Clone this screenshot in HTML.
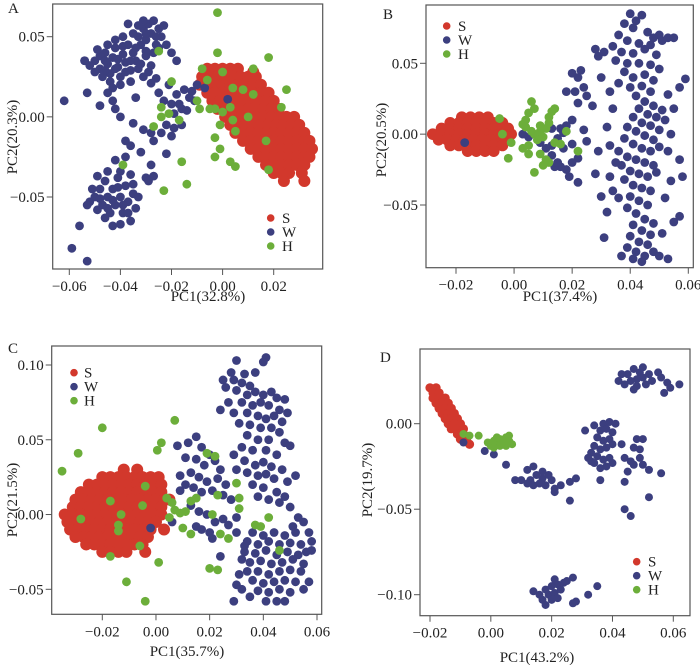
<!DOCTYPE html>
<html><head><meta charset="utf-8">
<style>
html,body{margin:0;padding:0;background:#fff;}
svg, svg text{font-family:"Liberation Serif","Times New Roman",serif;}
</style></head>
<body>
<svg id="fig" width="700" height="665" viewBox="0 0 700 665"></svg>
<script>
// ---------- DATA ----------
const aS = [[0.03,[-0.006,-0.003,0,0.003,0.006]],[0.028,[0.012]],[0.025,[-0.008,-0.005,-0.002,0.001,0.004,0.007,0.01,0.013]],[0.02,[-0.009,-0.006,-0.003,0,0.003,0.006,0.009,0.012,0.015]],[0.015,[-0.006,-0.003,0,0.003,0.006,0.009,0.012,0.015,0.018]],[0.01,[-0.004,-0.001,0.002,0.005,0.008,0.011,0.014,0.017,0.02]],[0.005,[-0.002,0.001,0.004,0.007,0.01,0.013,0.016,0.019,0.022]],[0,[0.001,0.004,0.007,0.01,0.013,0.016,0.019,0.022,0.025,0.028]],[-0.005,[0.003,0.006,0.009,0.012,0.015,0.018,0.021,0.024,0.027,0.03]],[-0.01,[0.005,0.008,0.011,0.014,0.017,0.02,0.023,0.026,0.029,0.032]],[-0.015,[0.008,0.011,0.014,0.017,0.02,0.023,0.026,0.029,0.032,0.034]],[-0.02,[0.011,0.014,0.017,0.02,0.023,0.026,0.029,0.032,0.035]],[-0.025,[0.014,0.017,0.02,0.023,0.026,0.029,0.032,0.034]],[-0.03,[0.017,0.02,0.023,0.026,0.029,0.032]],[-0.035,[0.02,0.023,0.026,0.031]],[-0.04,[0.024,0.032]]];
const aW = [[-0.05,0.035],[-0.048,0.03],[-0.046,0.04],[-0.045,0.033],[-0.044,0.027],[-0.043,0.037],[-0.042,0.043],[-0.041,0.031],[-0.04,0.025],[-0.039,0.039],[-0.038,0.034],[-0.037,0.045],[-0.036,0.029],[-0.035,0.04],[-0.034,0.035],[-0.033,0.05],[-0.032,0.045],[-0.031,0.055],[-0.03,0.048],[-0.029,0.058],[-0.028,0.052],[-0.027,0.06],[-0.026,0.045],[-0.025,0.055],[-0.024,0.05],[-0.023,0.057],[-0.03,0.038],[-0.033,0.03],[-0.036,0.022],[-0.04,0.02],[-0.044,0.022],[-0.047,0.025],[-0.05,0.028],[-0.052,0.032],[-0.048,0.038],[-0.045,0.045],[-0.042,0.048],[-0.039,0.05],[-0.035,0.052],[-0.031,0.06],[-0.027,0.04],[-0.028,0.032],[-0.031,0.025],[-0.038,0.028],[-0.041,0.036],[-0.046,0.029],[-0.034,0.043],[-0.03,0.041],[-0.025,0.043],[-0.022,0.045],[-0.02,0.04],[-0.018,0.035],[-0.043,0.018],[-0.049,0.042],[-0.054,0.035],[-0.037,0.058],[-0.033,0.057],[-0.03,0.052],[-0.026,0.05],[-0.036,0.035],[-0.032,0.033],[-0.029,0.028],[-0.026,0.024],[-0.039,0.044],[-0.046,0.035],[-0.042,0.03],
[-0.021,0.02],[-0.018,0.014],[-0.015,0.017],[-0.012,0.016],[-0.01,0.02],[-0.007,0.018],[-0.013,0.012],[-0.016,0.005],[-0.02,0.008],[-0.023,0.01],[-0.025,0.015],[-0.019,0.002],[-0.022,-0.005],[-0.02,-0.012],[-0.017,0.008],[-0.014,0.004],[-0.011,0.01],[-0.024,-0.01],[-0.027,-0.015],[-0.028,-0.03],[-0.022,-0.023],[-0.032,-0.022],[-0.036,-0.018],[-0.038,-0.015],[-0.031,-0.008],[-0.035,-0.004],[-0.04,0],[-0.043,0.01],[-0.045,0.015],[-0.048,0.007],[-0.053,0.015],[-0.042,0.005],[-0.034,0.012],[-0.028,0.021],[-0.028,-0.01],[-0.016,-0.005],[-0.019,-0.007],
[-0.05,-0.05],[-0.048,-0.045],[-0.047,-0.055],[-0.046,-0.04],[-0.045,-0.05],[-0.044,-0.06],[-0.043,-0.045],[-0.042,-0.055],[-0.041,-0.038],[-0.04,-0.05],[-0.039,-0.06],[-0.038,-0.043],[-0.037,-0.053],[-0.036,-0.036],[-0.035,-0.048],[-0.034,-0.057],[-0.036,-0.065],[-0.04,-0.067],[-0.043,-0.068],[-0.046,-0.063],[-0.049,-0.058],[-0.052,-0.053],[-0.051,-0.045],[-0.049,-0.037],[-0.045,-0.034],[-0.04,-0.034],[-0.035,-0.042],[-0.037,-0.06],[-0.043,-0.052],[-0.048,-0.051],[-0.041,-0.044],[-0.039,-0.055],[-0.045,-0.057],[-0.033,-0.05],[-0.053,-0.055],[-0.03,-0.038],[-0.038,-0.025],[-0.042,-0.027],
[-0.062,0.01],[-0.059,-0.082],[-0.053,-0.09],[-0.056,-0.068],[-0.054,0.035],[0.002,0.011],[-0.027,-0.037],[-0.029,-0.04]];
const aH = [[-0.002,0.065],[-0.002,0.04],[0.018,0.037],[0.012,0.03],[0,0.028],[-0.008,0.03],[-0.025,0.041],[-0.02,0.022],[0.025,0.017],[0.008,0.017],[0.004,0.018],[0.012,0.014],[-0.01,0.01],[-0.005,0.005],[-0.003,0.005],[0,0.003],[0.003,0.006],[0.01,0],[0.023,0.006],[-0.024,0.006],[-0.024,0],[-0.021,0.002],[-0.017,-0.002],[-0.027,-0.006],[-0.001,-0.005],[0.004,-0.002],[0.005,-0.009],[-0.003,-0.013],[-0.001,-0.02],[-0.003,-0.025],[0.003,-0.028],[0.005,-0.031],[0.017,-0.015],[0.018,-0.033],[-0.016,-0.028],[-0.014,-0.042],[-0.023,-0.046],[-0.039,-0.03],[-0.009,0.005],[-0.006,0.023]];

const bS = [[0.012,[-0.018,-0.015,-0.012,-0.009]],[0.008,[-0.022,-0.019,-0.016,-0.013,-0.01,-0.007,-0.004]],[0.004,[-0.025,-0.022,-0.019,-0.016,-0.013,-0.01,-0.007,-0.004,-0.002]],[0,[-0.028,-0.025,-0.022,-0.019,-0.016,-0.013,-0.01,-0.007,-0.004,-0.001]],[-0.004,[-0.026,-0.023,-0.02,-0.017,-0.014,-0.011,-0.008,-0.005,-0.002]],[-0.008,[-0.022,-0.019,-0.016,-0.013,-0.01,-0.007,-0.004]],[-0.012,[-0.016,-0.013,-0.01,-0.007]]];
const bW = [[-0.017,-0.006],[0.04,0.085],[0.042,0.08],[0.044,0.084],[0.038,0.078],[0.041,0.075],[0.046,0.072],[0.05,0.07],[0.048,0.068],[0.036,0.07],[0.039,0.066],[0.043,0.064],[0.047,0.063],[0.051,0.066],[0.034,0.062],[0.037,0.058],[0.041,0.057],[0.045,0.06],[0.049,0.056],[0.035,0.052],[0.039,0.05],[0.043,0.05],[0.047,0.049],[0.05,0.046],[0.038,0.044],[0.041,0.04],[0.045,0.042],[0.048,0.038],[0.036,0.036],[0.04,0.033],[0.044,0.034],[0.047,0.03],[0.042,0.027],[0.045,0.023],[0.048,0.02],[0.051,0.017],[0.043,0.018],[0.046,0.014],[0.049,0.012],[0.041,0.012],[0.044,0.008],[0.047,0.006],[0.05,0.003],[0.039,0.005],[0.042,0.002],[0.045,-0.001],[0.048,-0.004],[0.038,-0.003],[0.041,-0.007],[0.044,-0.01],[0.047,-0.012],[0.05,-0.009],[0.036,-0.012],[0.039,-0.016],[0.042,-0.018],[0.045,-0.02],[0.048,-0.022],[0.037,-0.022],[0.04,-0.026],[0.043,-0.028],[0.046,-0.03],[0.049,-0.027],[0.038,-0.032],[0.041,-0.036],[0.044,-0.038],[0.047,-0.04],[0.04,-0.044],[0.043,-0.047],[0.046,-0.05],[0.039,-0.052],[0.042,-0.056],[0.045,-0.06],[0.048,-0.063],[0.041,-0.064],[0.044,-0.068],[0.047,-0.071],[0.04,-0.072],[0.043,-0.076],[0.046,-0.078],[0.039,-0.08],[0.042,-0.083],[0.045,-0.086],[0.048,-0.083],[0.037,-0.086],[0.041,-0.088],[0.044,-0.09],[0.05,-0.086],[0.053,-0.088],[0.036,-0.045],[0.034,-0.04],[0.033,-0.03],[0.035,-0.02],[0.033,-0.008],[0.032,0.005],[0.034,0.018],[0.033,0.03],[0.03,0.04],[0.029,0.055],[0.028,0.06],[0.031,0.058],[0.053,0.068],[0.055,0.068],[0.059,0.039],[0.057,0.033],[0.053,0.028],[0.055,0.018],[0.052,0.01],[0.054,0],[0.053,-0.012],[0.057,-0.018],[0.058,-0.03],[0.054,-0.033],[0.052,-0.045],[0.055,-0.062],[0.057,-0.058],[0.051,-0.07],[0.031,-0.073],[0.032,-0.055],[0.03,-0.044],[0.028,-0.028],[0.029,-0.012],[0.027,0.02],[0.025,0.027],[0.024,0.033],[0.023,0.045],[0.022,0.04],[0.02,0.043],[0.018,0.03],[0.021,0.03],[0.022,0.022],[0.02,0.01],[0.018,0.006],[0.017,0.001],[0.015,-0.003],[0.013,-0.008],[0.017,-0.01],[0.02,-0.007],[0.022,-0.017],[0.02,-0.02],[0.018,-0.025],[0.016,-0.023],[0.014,-0.023],[0.022,-0.034],[0.019,-0.03],[0.003,0],[0.005,-0.002],[0.009,-0.006],[0.01,0.004],[0.013,0.004],[0.016,0.004],[0.011,-0.01],[0.013,-0.015],[0.015,-0.02],[0.024,0.003],[0.025,-0.005]];
const bH = [[-0.005,0.011],[-0.004,0],[-0.001,-0.006],[-0.002,-0.017],[0.003,0.007],[0.004,0.01],[0.005,0.015],[0.006,0.023],[0.007,0.018],[0.004,0.005],[0.006,0.002],[0.007,0],[0.008,-0.001],[0.009,0.002],[0.011,0.004],[0.012,0.008],[0.013,0.016],[0.014,0.018],[0.012,0.012],[0.008,-0.004],[0.005,-0.008],[0.003,-0.01],[0.005,-0.014],[0.009,-0.014],[0.011,-0.018],[0.01,-0.022],[0.012,-0.02],[0.007,-0.027],[0.014,-0.006],[0.018,0.002],[0.022,-0.012],[0.016,-0.007],[0.009,0.006],[0.01,-0.002]];

const cS = [[0.03,[-0.012,-0.007]],[0.025,[-0.02,-0.017,-0.014,-0.011,-0.008,-0.005,-0.002,0.001]],[0.02,[-0.025,-0.022,-0.019,-0.016,-0.013,-0.01,-0.007,-0.004,-0.001,0.002]],[0.015,[-0.028,-0.025,-0.022,-0.019,-0.016,-0.013,-0.01,-0.007,-0.004,-0.001,0.002]],[0.01,[-0.03,-0.027,-0.024,-0.021,-0.018,-0.015,-0.012,-0.009,-0.006,-0.003,0,0.003,0.005]],[0.005,[-0.031,-0.028,-0.025,-0.022,-0.019,-0.016,-0.013,-0.01,-0.007,-0.004,-0.001,0.002]],[0,[-0.034,-0.031,-0.028,-0.025,-0.022,-0.019,-0.016,-0.013,-0.01,-0.007,-0.004,-0.001,0.002]],[-0.005,[-0.033,-0.03,-0.027,-0.024,-0.021,-0.018,-0.015,-0.012,-0.009,-0.006,-0.003,0]],[-0.01,[-0.032,-0.029,-0.026,-0.023,-0.02,-0.017,-0.014,-0.011,-0.008,-0.005,-0.002,0.003]],[-0.015,[-0.03,-0.027,-0.024,-0.021,-0.018,-0.015,-0.012,-0.009,-0.006,-0.003]],[-0.02,[-0.026,-0.023,-0.02,-0.017,-0.014,-0.011,-0.008,-0.005]],[-0.025,[-0.02,-0.017,-0.014,-0.011,-0.004]]];
const cW = [[-0.002,-0.009],[0.041,0.105],[0.04,0.102],[0.03,0.103],[0.028,0.095],[0.033,0.094],[0.037,0.095],[0.025,0.09],[0.029,0.09],[0.032,0.088],[0.035,0.086],[0.026,0.085],[0.03,0.083],[0.034,0.08],[0.037,0.082],[0.04,0.08],[0.043,0.082],[0.045,0.078],[0.048,0.077],[0.027,0.075],[0.032,0.075],[0.036,0.073],[0.039,0.075],[0.042,0.073],[0.046,0.07],[0.049,0.068],[0.024,0.07],[0.029,0.068],[0.034,0.068],[0.038,0.066],[0.041,0.064],[0.044,0.066],[0.047,0.062],[0.031,0.061],[0.035,0.06],[0.039,0.058],[0.043,0.058],[0.046,0.055],[0.034,0.053],[0.038,0.05],[0.042,0.05],[0.048,0.048],[0.05,0.046],[0.032,0.045],[0.036,0.043],[0.041,0.043],[0.045,0.04],[0.029,0.04],[0.033,0.036],[0.037,0.033],[0.04,0.035],[0.043,0.032],[0.047,0.03],[0.03,0.03],[0.034,0.028],[0.038,0.026],[0.041,0.027],[0.044,0.024],[0.049,0.022],[0.052,0.026],[0.036,0.02],[0.04,0.018],[0.045,0.015],[0.048,0.012],[0.038,0.012],[0.042,0.01],[0.046,0.008],[0.05,0.005],[0.053,-0.002],[0.051,-0.008],[0.055,-0.005],[0.057,-0.012],[0.058,-0.018],[0.058,-0.024],
[0.008,0.046],[0.012,0.048],[0.015,0.052],[0.017,0.045],[0.02,0.04],[0.011,0.038],[0.015,0.037],[0.018,0.033],[0.022,0.036],[0.024,0.03],[0.009,0.026],[0.013,0.028],[0.016,0.025],[0.019,0.022],[0.023,0.024],[0.026,0.02],[0.011,0.02],[0.014,0.018],[0.017,0.015],[0.021,0.016],[0.025,0.013],[0.028,0.01],[0.009,0.016],[0.013,0.006],[0.016,0.002],[0.019,0],[0.022,-0.005],[0.025,-0.003],[0.027,-0.007],[0.02,-0.012],[0.017,-0.01],[0.015,-0.008],[0.021,-0.016],[0.024,-0.028],[0.006,-0.005],[0.03,-0.012],[0.03,-0.002],
[0.036,-0.012],[0.04,-0.014],[0.044,-0.012],[0.048,-0.014],[0.052,-0.012],[0.034,-0.018],[0.038,-0.02],[0.042,-0.018],[0.046,-0.02],[0.05,-0.019],[0.054,-0.02],[0.033,-0.025],[0.037,-0.026],[0.041,-0.024],[0.045,-0.027],[0.049,-0.025],[0.053,-0.027],[0.056,-0.025],[0.035,-0.032],[0.039,-0.031],[0.043,-0.033],[0.047,-0.032],[0.051,-0.03],[0.055,-0.033],[0.034,-0.038],[0.038,-0.038],[0.042,-0.04],[0.046,-0.038],[0.05,-0.037],[0.054,-0.038],[0.036,-0.044],[0.04,-0.046],[0.044,-0.045],[0.048,-0.044],[0.052,-0.045],[0.038,-0.051],[0.042,-0.052],[0.046,-0.05],[0.05,-0.052],[0.041,-0.058],[0.045,-0.058],[0.035,-0.055],[0.032,-0.05],[0.03,-0.047],[0.029,-0.058],[0.031,-0.04],[0.032,-0.03],[0.057,-0.045],[0.055,-0.05],[0.048,-0.058],[0.033,-0.021]];
const cH = [[-0.035,0.029],[-0.029,0.041],[-0.02,0.058],[0.007,0.063],[0.002,0.048],[0.0005,0.043],[-0.028,-0.003],[-0.017,0.009],[-0.013,0],[-0.014,-0.007],[-0.014,-0.011],[-0.005,0.006],[-0.004,0.019],[-0.006,-0.021],[-0.017,-0.028],[0.001,-0.032],[-0.011,-0.045],[-0.004,-0.058],[0.004,0.011],[0.006,0.008],[0.007,0.003],[0.005,-0.002],[0.009,0.001],[0.011,0.002],[0.013,0.009],[0.015,0.011],[0.01,-0.009],[0.013,-0.013],[0.019,0.041],[0.022,0.039],[0.021,0],[0.023,0.013],[0.024,-0.013],[0.027,-0.016],[0.02,-0.036],[0.023,-0.037],[0.03,0.021],[0.031,0.011],[0.031,0.004],[0.037,-0.007],[0.039,-0.008],[0.042,-0.002],[0.046,-0.024]];

const dS = [[0.021,[-0.02,-0.018]],[0.018,[-0.019,-0.017]],[0.015,[-0.019,-0.017,-0.015]],[0.012,[-0.018,-0.016,-0.014]],[0.009,[-0.017,-0.015,-0.013]],[0.006,[-0.016,-0.014,-0.012]],[0.003,[-0.015,-0.013,-0.011]],[0,[-0.014,-0.012,-0.01]],[-0.003,[-0.013,-0.011,-0.009]],[-0.006,[-0.011,-0.009]],[-0.009,[-0.01,-0.008]],[-0.012,[-0.007]]];
const dW = [[0.045,0.029],[0.047,0.032],[0.049,0.03],[0.05,0.027],[0.048,0.026],[0.046,0.025],[0.048,0.022],[0.051,0.023],[0.047,0.02],[0.044,0.023],[0.052,0.029],[0.043,0.029],[0.05,0.033],[0.053,0.025],[0.042,0.025],[0.055,0.03],[0.056,0.027],[0.058,0.024],[0.059,0.021],[0.062,0.023],[0.057,0.018],
[0.037,0],[0.039,0.001],[0.041,0],[0.036,-0.004],[0.038,-0.003],[0.04,-0.005],[0.035,-0.008],[0.037,-0.01],[0.039,-0.009],[0.034,-0.013],[0.036,-0.015],[0.038,-0.014],[0.04,-0.012],[0.035,-0.019],[0.037,-0.021],[0.034,-0.023],[0.036,-0.026],[0.039,-0.02],[0.038,-0.025],[0.033,-0.017],[0.032,-0.02],[0.034,-0.001],[0.031,-0.004],[0.033,-0.022],[0.036,-0.033],[0.04,-0.023],
[0.043,-0.012],[0.044,-0.02],[0.046,-0.022],[0.045,-0.028],[0.044,-0.034],[0.047,-0.014],[0.048,-0.009],[0.05,-0.009],[0.049,-0.015],[0.049,-0.02],[0.047,-0.024],[0.05,-0.024],[0.052,-0.027],[0.056,-0.029],[0.052,-0.043],[0.044,-0.05],[0.046,-0.054],
[0.012,-0.027],[0.01,-0.033],[0.013,-0.033],[0.015,-0.03],[0.017,-0.032],[0.019,-0.03],[0.014,-0.036],[0.016,-0.035],[0.018,-0.036],[0.012,-0.035],[0.02,-0.033],[0.014,-0.025],[0.017,-0.028],[0.008,-0.033],[0.021,-0.038],[0.023,-0.036],[0.026,-0.034],[0.028,-0.032],[0.026,-0.045],[0.021,-0.04],[0.005,-0.024],[0.001,-0.018],[-0.002,-0.016],[-0.009,-0.011],
[0.018,-0.097],[0.02,-0.095],[0.022,-0.094],[0.019,-0.1],[0.021,-0.099],[0.023,-0.097],[0.017,-0.103],[0.02,-0.103],[0.018,-0.106],[0.024,-0.093],[0.025,-0.092],[0.022,-0.102],[0.014,-0.098],[0.016,-0.1],[0.027,-0.09],[0.028,-0.104],[0.027,-0.105],[0.032,-0.1],[0.035,-0.095],[0.021,-0.091]];
const dH = [[-0.009,-0.006],[-0.007,-0.007],[-0.004,-0.007],[-0.001,-0.011],[0,-0.013],[0.001,-0.01],[0.002,-0.012],[0.003,-0.009],[0.004,-0.011],[0.005,-0.008],[0.006,-0.01],[0.007,-0.012],[0.005,-0.013],[0.003,-0.013],[0.001,-0.014],[0.006,-0.007],[0.002,-0.008]];

const xTicksA = [-0.06,-0.04,-0.02,0.00,0.02];
const yTicksA = [0.05,0.00,-0.05];
const xTicksB = [-0.02,0.00,0.02,0.04,0.06];
const yTicksB = [0.05,0.00,-0.05];
const xTicksC = [-0.02,0.00,0.02,0.04,0.06];
const yTicksC = [0.10,0.05,0.00,-0.05];
const xTicksD = [-0.02,0.00,0.02,0.04,0.06];
const yTicksD = [0.00,-0.05,-0.10];
const groups = ["S","W","H"];
const colors = {S:"#d2382c",W:"#3c3f7f",H:"#6cae3a"};

// ---------- LAYOUT ----------
const panels = [
 {id:"a",letter:"A",box:[52.7,4,322.7,269],xr:[-0.06,69.3,0.02,273.7],yr:[0.05,36.7,-0.05,197],xt:xTicksA,yt:yTicksA,S:aS,W:aW,H:aH,xl:"PC1(32.8%)",yl:"PC2(20.3%)",xlPos:[208,301],ylPos:[12,137],letPos:[8,13],leg:[270.7,218,282],r:4.4,rs:6},
 {id:"b",letter:"B",box:[426,5,693.3,267.7],xr:[-0.02,456,0.06,688.3],yr:[0.05,63.3,-0.05,205],xt:xTicksB,yt:yTicksB,S:bS,W:bW,H:bH,xl:"PC1(37.4%)",yl:"PC2(20.5%)",xlPos:[560,301],ylPos:[381,140],letPos:[383,19],leg:[446.7,26,458],r:4.4,rs:5.8},
 {id:"c",letter:"C",box:[51.7,346,321.7,614.3],xr:[-0.02,102.3,0.06,317],yr:[0.10,365,-0.05,589.3],xt:xTicksC,yt:yTicksC,S:cS,W:cW,H:cH,xl:"PC1(35.7%)",yl:"PC2(21.5%)",xlPos:[187,656],ylPos:[12,500],letPos:[8,353],leg:[74,372.7,84],r:4.4,rs:6},
 {id:"d",letter:"D",box:[420,349,690,615.7],xr:[-0.02,430,0.06,673.3],yr:[0.00,423.7,-0.10,594.7],xt:xTicksD,yt:yTicksD,S:dS,W:dW,H:dH,xl:"PC1(43.2%)",yl:"PC2(19.7%)",xlPos:[537,662],ylPos:[367,480],letPos:[380,362],leg:[636.7,561.7,648],r:4,rs:4.6}
];

const NS="http://www.w3.org/2000/svg";
const svg=document.getElementById("fig");
const FONT='"Liberation Serif","Times New Roman",serif';
function mk(tag,attrs,parent){const e=document.createElementNS(NS,tag);for(const k in attrs)e.setAttribute(k,attrs[k]);parent.appendChild(e);return e;}
function fmt(v){return (v<0?"\u22120":"0")+"."+Math.abs(v).toFixed(2).split(".")[1];}

panels.forEach(p=>{
  const g=mk("g",{},svg);
  
  
  const sx=v=>p.xr[1]+(v-p.xr[0])/(p.xr[2]-p.xr[0])*(p.xr[3]-p.xr[1]);
  const sy=v=>p.yr[1]+(v-p.yr[0])/(p.yr[2]-p.yr[0])*(p.yr[3]-p.yr[1]);
  const [x0,y0,x1,y1]=p.box;
  const clipId="clip"+p.id;
  const cp=mk("clipPath",{id:clipId},g);
  mk("rect",{x:x0,y:y0,width:x1-x0,height:y1-y0},cp);
  const pts=mk("g",{"clip-path":"url(#"+clipId+")"},g);
  
  
  p.S.forEach(row=>{row[1].forEach(xv=>{
    const c=mk("circle",{cx:sx(xv),cy:sy(row[0]),r:p.rs,fill:colors.S},pts);
    
    
  });});
  ["W","H"].forEach(gk=>{p[gk].forEach(d=>{
    const c=mk("circle",{cx:sx(d[0]),cy:sy(d[1]),r:p.r,fill:colors[gk]},pts);
    
    
  });});
  const fr=mk("rect",{x:x0,y:y0,width:x1-x0,height:y1-y0,fill:"none",stroke:"#555","stroke-width":1.2},g);
  
  
  p.xt.forEach(v=>{
    const x=sx(v);
    const t=mk("line",{x1:x,x2:x,y1:y1,y2:y1+6,stroke:"#555","stroke-width":1},g);
    
    
    const l=mk("text",{x:x,y:y1+22,"text-anchor":"middle","font-size":15,fill:"#222","font-family":FONT},g);
    l.textContent=fmt(v);
    
    
  });
  p.yt.forEach(v=>{
    const y=sy(v);
    const t=mk("line",{x1:x0-6,x2:x0,y1:y,y2:y,stroke:"#555","stroke-width":1},g);
    
    
    const l=mk("text",{x:x0-8,y:y+5,"text-anchor":"end","font-size":15,fill:"#222","font-family":FONT},g);
    l.textContent=fmt(v);
    
    
  });
  const xt=mk("text",{x:p.xlPos[0],y:p.xlPos[1],"text-anchor":"middle","font-size":15,fill:"#222","font-family":FONT},g);
  xt.textContent=p.xl;
  
  
  const yt=mk("text",{x:0,y:0,"text-anchor":"middle","font-size":15,fill:"#222","font-family":FONT,transform:"translate("+(p.ylPos[0]+5)+","+p.ylPos[1]+") rotate(-90)"},g);
  yt.textContent=p.yl;
  
  
  const lt=mk("text",{x:p.letPos[0],y:p.letPos[1],"font-size":15,fill:"#222","font-family":FONT},g);
  lt.textContent=p.letter;
  
  
  groups.forEach((gk,i)=>{
    const lg=mk("g",{},g);
    
    
    const cy=p.leg[1]+i*14;
    mk("circle",{cx:p.leg[0],cy:cy,r:3.8,fill:colors[gk]},lg);
    const tx=mk("text",{x:p.leg[2],y:cy+5,"font-size":15,fill:"#222","font-family":FONT},lg);
    tx.textContent=gk;
  });
});
</script>
</body></html>
